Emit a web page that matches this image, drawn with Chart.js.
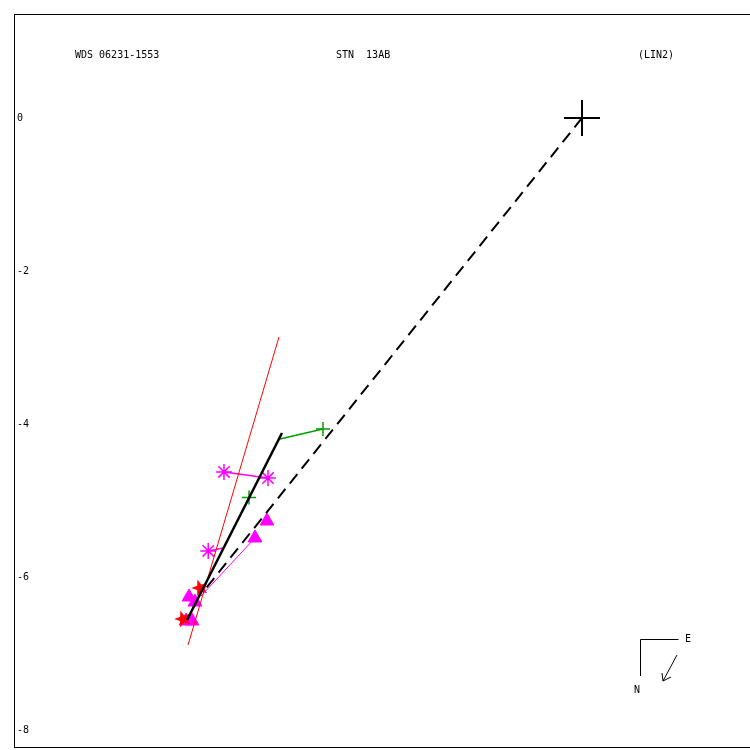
<!DOCTYPE html>
<html>
<head>
<meta charset="utf-8">
<script src="https://cdn.jsdelivr.net/npm/chart.js@4/dist/chart.umd.min.js"></script>
<style>
  html, body { margin: 0; padding: 0; background: #fff; }
  canvas { display: block; }
</style>
</head>
<body>
<canvas id="orbita" width="750" height="750"></canvas>
<script>
(function(){

// textos do cabeçalho
const titulos = ["WDS 06231-1553", "STN  13AB", "(LIN2)"];
const yTicks = [0, -2, -4, -6, -8];

// limites dos eixos (arcsec)
const xLim = [-7.425, 2.196];
const yLim = [-8.235, 1.359];

// primária e linha das apsides
const primaria = [[0, 0]];
const apsides = [[0, 0], [-4.954, -6.196]];

// órbita (quase de perfil) e linha dos nodos
const orbita = [[-3.922, -4.118], [-5.163, -6.562]];
const nodos = [[-3.961, -2.863], [-5.150, -6.889]];

// observações
const obsVerde = [[-3.386, -4.065], [-4.353, -4.961]];
const resVerde = [[[-3.386, -4.065], [-3.948, -4.196]]];

const obsAsterisco = [[-4.680, -4.627], [-4.105, -4.706], [-4.886, -5.660]];
const resAsterisco = [
  [[-4.680, -4.627], [-4.105, -4.706]],
  [[-4.886, -5.660], [-4.693, -5.621]]
];

const obsTriangulo = [[-4.118, -5.268], [-4.275, -5.490], [-5.137, -6.261],
                      [-5.059, -6.327], [-5.176, -6.575], [-5.098, -6.575]];
const resTriangulo = [[[-4.275, -5.490], [-4.980, -6.248]]];

const obsEstrela = [[-4.993, -6.144], [-5.216, -6.549]];

const pts = arr => arr.map(p => ({x: p[0], y: p[1]}));

// estrela vermelha cheia (pointStyle de canvas)
function estrela(){
  const c = document.createElement("canvas");
  c.width = 18; c.height = 18;
  const g = c.getContext("2d");
  g.fillStyle = "#ff0000";
  g.beginPath();
  for(let i=0;i<10;i++){
    const r = i%2 ? 3.6 : 8.8;
    const a = -Math.PI/2 + i*Math.PI/5 - 0.3;
    g.lineTo(9 + r*Math.cos(a), 9 + r*Math.sin(a));
  }
  g.closePath();
  g.fill();
  return c;
}

function linha(data, cor, largura, dash){
  return {
    data: pts(data), showLine: true, borderColor: cor, borderWidth: largura,
    borderDash: dash || [], pointRadius: 0, fill: false
  };
}

const datasets = [
  linha(orbita, "#000", 2.5),
  linha(apsides, "#000", 2, [12, 7]),
  {data: pts(primaria), pointStyle: "cross", pointRadius: 18, borderColor: "#000", borderWidth: 2},
  linha(nodos, "#ff0000", 1),
  ...resVerde.map(s => linha(s, "#00a000", 1.5)),
  {data: pts(obsVerde), pointStyle: "cross", pointRadius: 7, borderColor: "#00a000", borderWidth: 1.5},
  ...resAsterisco.map(s => linha(s, "#ff00ff", 1.5)),
  {data: pts(obsAsterisco), pointStyle: "star", pointRadius: 8, borderColor: "#ff00ff", borderWidth: 1.5},
  ...resTriangulo.map(s => linha(s, "#ff00ff", 1)),
  {data: pts(obsEstrela), pointStyle: estrela(), pointRadius: 9},
  {data: pts(obsTriangulo), pointStyle: "triangle", pointRadius: 8,
   backgroundColor: "#ff00ff", borderColor: "#ff00ff", borderWidth: 1}
];

const moldura = {
  id: "moldura",
  afterDraw(chart){
    const {ctx, chartArea: a} = chart;
    ctx.save();
    ctx.strokeStyle = "#000";
    ctx.lineWidth = 1;
    ctx.strokeRect(a.left + 0.5, a.top + 0.5, a.right - a.left, a.bottom - a.top - 1);

    ctx.fillStyle = "#000";
    ctx.font = "10px 'DejaVu Sans Mono'";
    ctx.textBaseline = "middle";
    ctx.textAlign = "left";
    ctx.fillText(titulos[0], 75, 55);
    ctx.fillText(titulos[1], 336, 55);
    ctx.fillText(titulos[2], 638, 55);

    // rosa dos ventos
    ctx.beginPath();
    ctx.moveTo(678.5, 639.5); ctx.lineTo(640.5, 639.5); ctx.lineTo(640.5, 676);
    ctx.moveTo(677, 655); ctx.lineTo(663, 681);
    ctx.moveTo(662, 673); ctx.lineTo(663, 681); ctx.lineTo(671, 677);
    ctx.stroke();
    ctx.fillText("E", 685, 639);
    ctx.fillText("N", 634, 690);
    ctx.restore();
  }
};

new Chart(document.getElementById("orbita"), {
  type: "scatter",
  data: {datasets},
  options: {
    responsive: false,
    animation: false,
    events: [],
    layout: {autoPadding: false, padding: {left: 14, top: 14, right: 0, bottom: 2}},
    plugins: {legend: {display: false}, tooltip: {enabled: false}},
    scales: {
      x: {type: "linear", min: xLim[0], max: xLim[1], display: false},
      y: {
        type: "linear", min: yLim[0], max: yLim[1],
        grid: {display: false, drawTicks: false},
        border: {display: false},
        afterBuildTicks: s => { s.ticks = yTicks.map(v => ({value: v})); },
        afterFit: s => { s.width = 0; s.paddingTop = 0; s.paddingBottom = 0; },
        ticks: {
          mirror: true, padding: 3, color: "#000",
          font: {family: "'DejaVu Sans Mono'", size: 10},
          callback: v => String(v)
        }
      }
    }
  },
  plugins: [moldura]
});

})();
</script>
</body>
</html>
